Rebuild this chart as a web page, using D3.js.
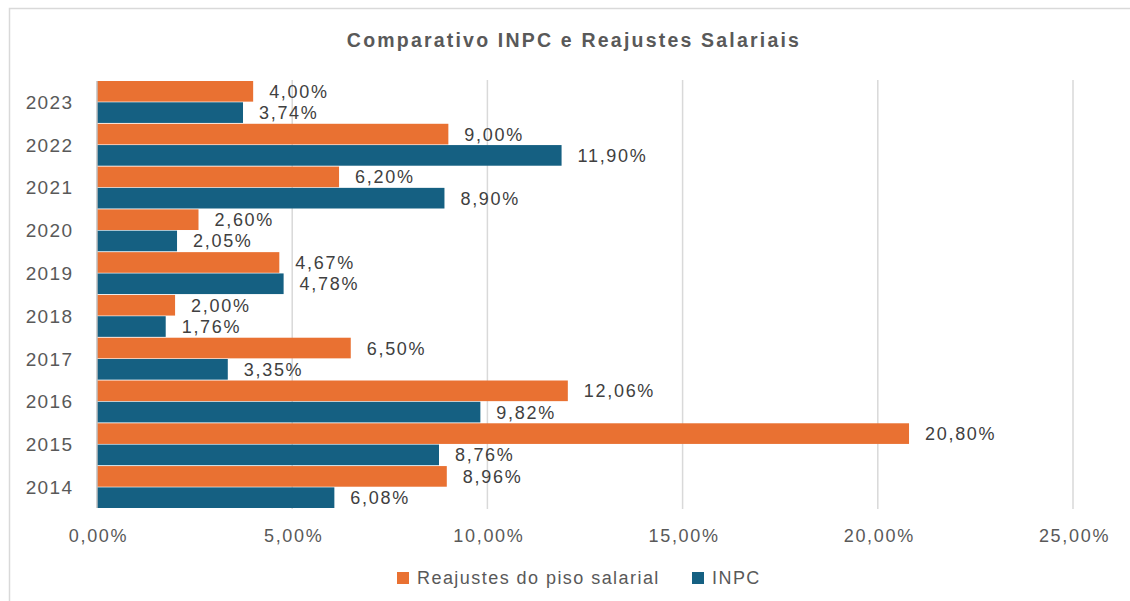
<!DOCTYPE html>
<html>
<head>
<meta charset="utf-8">
<script src="https://cdn.jsdelivr.net/npm/d3@7"></script>
<style>
  body { margin: 0; background: #fff; }
  text { font-family: "Liberation Sans", Arial, sans-serif; }
</style>
</head>
<body>
<svg id="chart" width="1130" height="601"></svg>
<script>
const years = ["2014", "2015", "2016", "2017", "2018", "2019", "2020", "2021", "2022", "2023"];
const reajustes = [8.96, 20.80, 12.06, 6.50, 2.00, 4.67, 2.60, 6.20, 9.00, 4.00];
const inpc = [6.08, 8.76, 9.82, 3.35, 1.76, 4.78, 2.05, 8.90, 11.90, 3.74];
const xTicks = [0, 5, 10, 15, 20, 25];
const seriesNames = ["Reajustes do piso salarial", "INPC"];

const orange = "#E97132", blue = "#156082", textGray = "#595959";

const width = 1130, height = 601;
const margin = {left: 97, right: 57, top: 81, bottom: 93};

const svg = d3.select("#chart");

// chart frame (runs off the page on the right and bottom)
svg.append("rect")
    .attr("x", 9.5).attr("y", 8.5)
    .attr("width", 1140).attr("height", 620)
    .attr("fill", "#fff")
    .attr("stroke", "#d9d9d9")
    .attr("stroke-width", 1.5);

svg.append("text")
    .attr("x", 574).attr("y", 47)
    .attr("text-anchor", "middle")
    .attr("font-weight", "bold")
    .attr("font-size", 19.5)
    .attr("letter-spacing", 2.2)
    .attr("fill", textGray)
    .text("Comparativo INPC e Reajustes Salariais");

const x = d3.scaleLinear().domain([0, 25]).range([margin.left, width - margin.right]);
const y = d3.scaleBand()
    .domain(years.slice().reverse())
    .range([margin.top, height - margin.bottom])
    .paddingInner(0.02);
const sub = d3.scaleBand().domain(seriesNames).range([0, y.bandwidth()]).paddingInner(0.03);

const locale = d3.formatLocale({decimal: ",", thousands: ".", grouping: [3], currency: ["R$", ""]});
const pct = v => locale.format(".2f")(v) + "%";

// gridlines
svg.append("g")
    .selectAll("line")
    .data(xTicks.filter(t => t > 0))
    .join("line")
    .attr("x1", d => x(d)).attr("x2", d => x(d))
    .attr("y1", margin.top - 1).attr("y2", height - margin.bottom + 1)
    .attr("stroke", "#d9d9d9")
    .attr("stroke-width", 1.5);

// tick labels
const xAxis = svg.append("g")
    .attr("transform", `translate(1,${height - margin.bottom + 18})`)
    .call(d3.axisBottom(x).tickValues(xTicks).tickFormat(pct).tickSize(0));
xAxis.select(".domain").remove();
xAxis.selectAll("text")
    .attr("font-size", 18)
    .attr("letter-spacing", 1.7)
    .attr("fill", textGray)
    .style("font-family", "'Liberation Sans', Arial, sans-serif");

const rows = years.map((yr, i) => ({year: yr, values: [reajustes[i], inpc[i]]}));
const colors = [orange, blue];

const groups = svg.append("g")
    .selectAll("g")
    .data(rows)
    .join("g")
    .attr("transform", d => `translate(0,${y(d.year)})`);

groups.selectAll("rect")
    .data(d => d.values.map((v, k) => ({v, k})))
    .join("rect")
    .attr("x", x(0))
    .attr("y", d => sub(seriesNames[d.k]))
    .attr("width", d => x(d.v) - x(0))
    .attr("height", sub.bandwidth())
    .attr("fill", d => colors[d.k]);

groups.selectAll("text.lbl")
    .data(d => d.values.map((v, k) => ({v, k})))
    .join("text")
    .attr("class", "lbl")
    .attr("x", d => x(d.v) + 16)
    .attr("y", d => sub(seriesNames[d.k]) + sub.bandwidth() / 2)
    .attr("dy", "0.36em")
    .attr("font-size", 18)
    .attr("letter-spacing", 1.7)
    .attr("fill", "#404040")
    .text(d => pct(d.v));

// category axis line and labels
svg.append("line")
    .attr("x1", x(0)).attr("x2", x(0))
    .attr("y1", margin.top).attr("y2", height - margin.bottom)
    .attr("stroke", "#bfbfbf")
    .attr("stroke-width", 1.5);

svg.append("g")
    .selectAll("text")
    .data(years)
    .join("text")
    .attr("x", 73.5)
    .attr("y", d => y(d) + y.bandwidth() / 2)
    .attr("dy", "0.36em")
    .attr("text-anchor", "end")
    .attr("font-size", 19)
    .attr("letter-spacing", 1.4)
    .attr("fill", textGray)
    .text(d => d);

// legend
const legend = svg.append("g").attr("transform", "translate(397,578)");
const legX = [0, 295];
seriesNames.forEach((name, i) => {
    legend.append("rect")
        .attr("x", legX[i]).attr("y", -6)
        .attr("width", 12).attr("height", 12)
        .attr("fill", colors[i]);
    legend.append("text")
        .attr("x", legX[i] + 20).attr("y", 0)
        .attr("dy", "0.36em")
        .attr("font-size", 18)
        .attr("letter-spacing", 1.45)
        .attr("fill", textGray)
        .text(name);
});
</script>
</body>
</html>
